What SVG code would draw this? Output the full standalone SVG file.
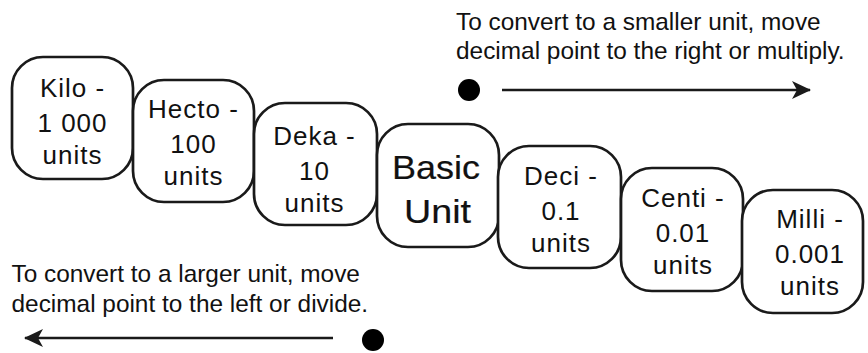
<svg xmlns="http://www.w3.org/2000/svg" width="868" height="353" viewBox="0 0 868 353">
<style>
.box{fill:#fff;stroke:#1a1a1a;stroke-width:2.7}
.t{font-family:"Liberation Sans",Arial,sans-serif;font-size:26px;letter-spacing:1px;fill:#111;text-anchor:middle}
.big{font-size:34px;letter-spacing:0;stroke:#111;stroke-width:0.2}
.note{font-family:"Liberation Sans",Arial,sans-serif;font-size:24.4px;fill:#111}
.arr{stroke:#1a1a1a;stroke-width:2.6;fill:none}
</style>
<defs>
<marker id="ah" markerWidth="20" markerHeight="20" viewBox="0 0 20 20" refX="18" refY="10" orient="auto-start-reverse" markerUnits="userSpaceOnUse">
<path d="M0,1 L19,10 L0,19 L5,10 Z" fill="#1a1a1a"/>
</marker>
</defs>
<rect width="868" height="353" fill="#fff"/>
<g id="kilo"><rect class="box" x="12" y="57" width="121" height="122" rx="31"/>
<text class="t" x="72.5" y="97">Kilo -</text><text class="t" x="72.5" y="132">1 000</text><text class="t" x="72.5" y="164">units</text></g>
<g id="hecto"><rect class="box" x="133" y="80" width="121" height="122" rx="31"/>
<text class="t" x="193.5" y="118">Hecto -</text><text class="t" x="193.5" y="153">100</text><text class="t" x="193.5" y="185">units</text></g>
<g id="deka"><rect class="box" x="254" y="103" width="123" height="122" rx="31"/>
<text class="t" x="314.5" y="145">Deka -</text><text class="t" x="314.5" y="180">10</text><text class="t" x="314.5" y="212">units</text></g>
<g id="basic"><rect class="box" x="377" y="124" width="122" height="123" rx="31"/>
<text class="t big" x="436" y="179" textLength="88" lengthAdjust="spacingAndGlyphs">Basic</text><text class="t big" x="437.5" y="223" textLength="67" lengthAdjust="spacingAndGlyphs">Unit</text></g>
<g id="deci"><rect class="box" x="498" y="146" width="123" height="122" rx="31"/>
<text class="t" x="561" y="185">Deci -</text><text class="t" x="561" y="220">0.1</text><text class="t" x="561" y="252">units</text></g>
<g id="centi"><rect class="box" x="621" y="168" width="122" height="123" rx="31"/>
<text class="t" x="683" y="207">Centi -</text><text class="t" x="683" y="242">0.01</text><text class="t" x="683" y="274">units</text></g>
<g id="milli"><rect class="box" x="742" y="190" width="121" height="123" rx="31"/>
<text class="t" x="810" y="228">Milli -</text><text class="t" x="810" y="263">0.001</text><text class="t" x="810" y="295">units</text></g>
<g id="notes">
<text class="note" x="456" y="30">To convert to a smaller unit, move</text>
<text class="note" x="456" y="59">decimal point to the right or multiply.</text>
<text class="note" x="11.5" y="282">To convert to a larger unit, move</text>
<text class="note" x="11.5" y="312">decimal point to the left or divide.</text>
</g>
<g id="connectors">
<circle cx="469" cy="90" r="11" fill="#000"/>
<line class="arr" x1="502" y1="90" x2="810" y2="90" marker-end="url(#ah)"/>
<circle cx="373" cy="340" r="11" fill="#000"/>
<line class="arr" x1="333" y1="338" x2="25" y2="338" marker-end="url(#ah)"/>
</g>
</svg>
